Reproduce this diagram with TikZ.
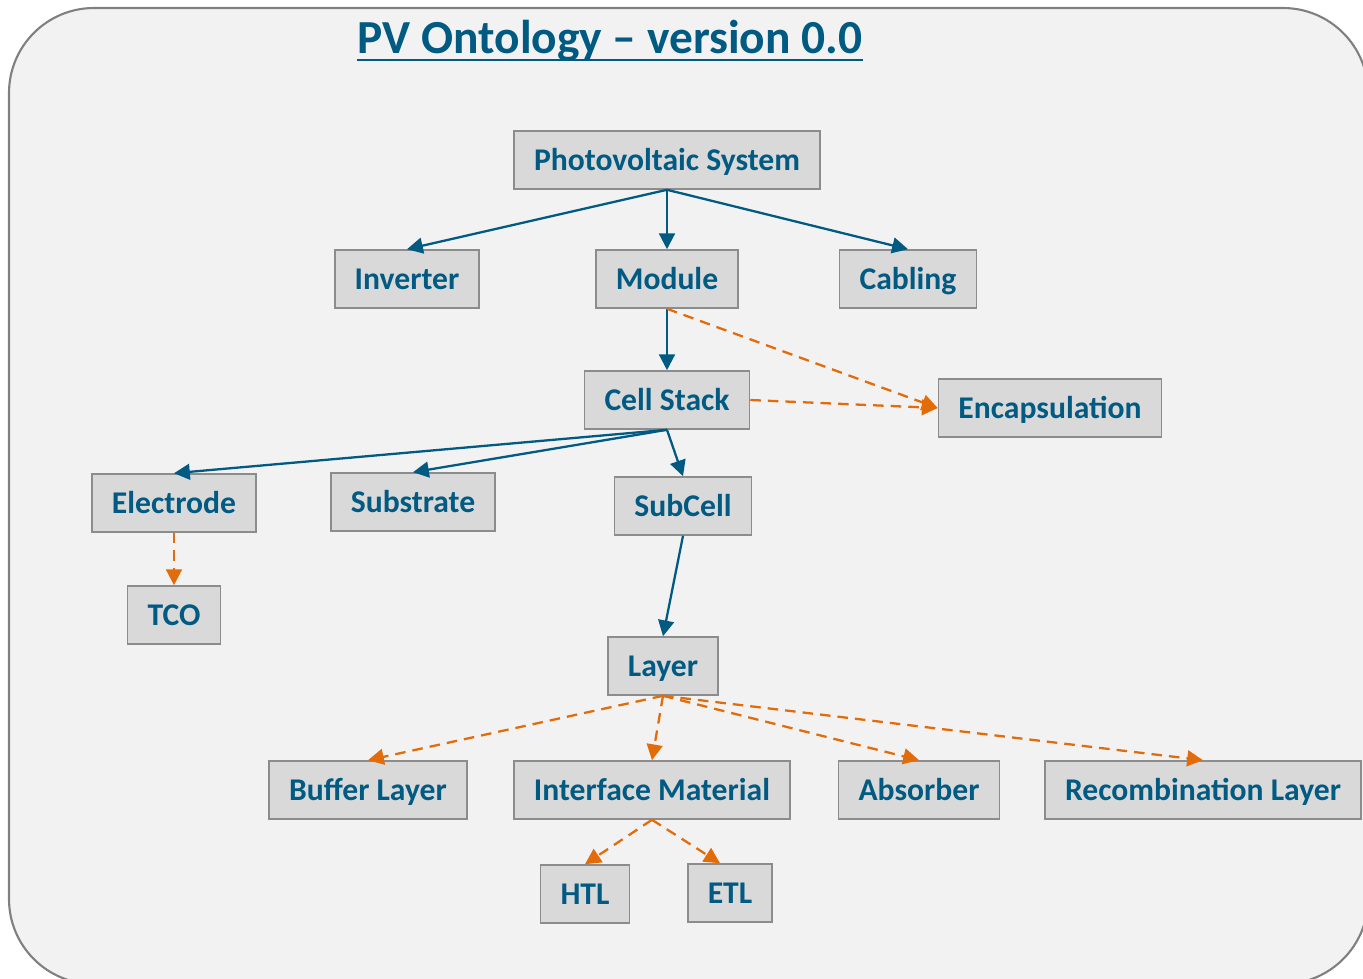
\documentclass[tikz,border=0pt]{standalone}
\usepackage{fontspec}
\setmainfont{Carlito}
\usetikzlibrary{arrows.meta, positioning, calc}
\definecolor{pvblue}{HTML}{005A82}
\definecolor{pvorange}{HTML}{E36C0A}
\definecolor{boxfill}{HTML}{D9D9D9}
\definecolor{boxline}{HTML}{8C8C8C}
\definecolor{bgfill}{HTML}{F2F2F2}
\definecolor{bgline}{HTML}{808080}

\begin{document}
\begin{tikzpicture}[
        x=0.02cm, y=-0.02cm,
        every node/.style={font=\fontsize{18}{21}\selectfont\bfseries, text=pvblue},
        cls/.style={rectangle,draw=boxline,fill=boxfill,line width=0.9pt,minimum height=1.16cm,inner xsep=0.4cm,text height=11.6pt,text depth=0pt},
        isa/.style={-{Triangle[length=9pt,width=9pt]},draw=pvblue,line width=1.3pt},
        part/.style={-{Triangle[length=9pt,width=9pt]},draw=pvorange,line width=1.3pt,dash pattern=on 6pt off 4pt}
      ]
      \useasboundingbox (0,0) rectangle (1363,978);

      % Background panel
      \begin{scope}
        \clip (0,0) rectangle (1363,978);
        \draw[fill=bgfill,draw=bgline,line width=1.2pt,rounded corners=1.7cm] (9,8) rectangle (1368,984);
      \end{scope}

      % Title
      \node[font=\fontsize{27}{32}\selectfont\bfseries,inner sep=0,anchor=base] (title) at (610,53) {PV Ontology – version 0.0};
      \draw[pvblue,line width=1.6pt] ($(title.base west)+(0,7)$) -- ($(title.base east)+(0,7)$);

      % Top levels
      \node[cls] (pvsys) at (667,160) {Photovoltaic System};
      \node[cls] (inverter) at (407,279) {Inverter};
      \node[cls] (module) at (667,279) {Module};
      \node[cls] (cabling) at (908,279) {Cabling};
      \draw[isa] (pvsys.south) -- (inverter.north);
      \draw[isa] (pvsys.south) -- (module.north);
      \draw[isa] (pvsys.south) -- (cabling.north);

      % Cell stack and encapsulation
      \node[cls] (cellstack) at (667,400) {Cell Stack};
      \node[cls] (encap) at (1050,408) {Encapsulation};
      \draw[isa] (module.south) -- (cellstack.north);
      \draw[part] (module.south) -- (encap.west);
      \draw[part] (cellstack.east) -- (encap.west);

      % Parts of the cell stack
      \node[cls] (electrode) at (174,503) {Electrode};
      \node[cls] (substrate) at (413,502) {Substrate};
      \node[cls] (subcell) at (683,506) {SubCell};
      \draw[isa] (cellstack.south) -- (electrode.north);
      \draw[isa] (cellstack.south) -- (substrate.north);
      \draw[isa] (cellstack.south) -- (subcell.north);

      \node[cls] (tco) at (174,615) {TCO};
      \draw[part] (electrode.south) -- (tco.north);

      % Layers
      \node[cls] (layer) at (663,666) {Layer};
      \draw[isa] (subcell.south) -- (layer.north);

      \node[cls] (buffer) at (368,790) {Buffer Layer};
      \node[cls] (interface) at (652,790) {Interface Material};
      \node[cls] (absorber) at (919,790) {Absorber};
      \node[cls] (recomb) at (1203,790) {Recombination Layer};
      \draw[part] (layer.south) -- (buffer.north);
      \draw[part] (layer.south) -- (interface.north);
      \draw[part] (layer.south) -- (absorber.north);
      \draw[part] (layer.south) -- (recomb.north);

      % Transport layers
      \node[cls] (htl) at (585,894) {HTL};
      \node[cls] (etl) at (730,893) {ETL};
      \draw[part] (interface.south) -- (htl.north);
      \draw[part] (interface.south) -- ([xshift=-0.2cm]etl.north);
    \end{tikzpicture}
\end{document}
